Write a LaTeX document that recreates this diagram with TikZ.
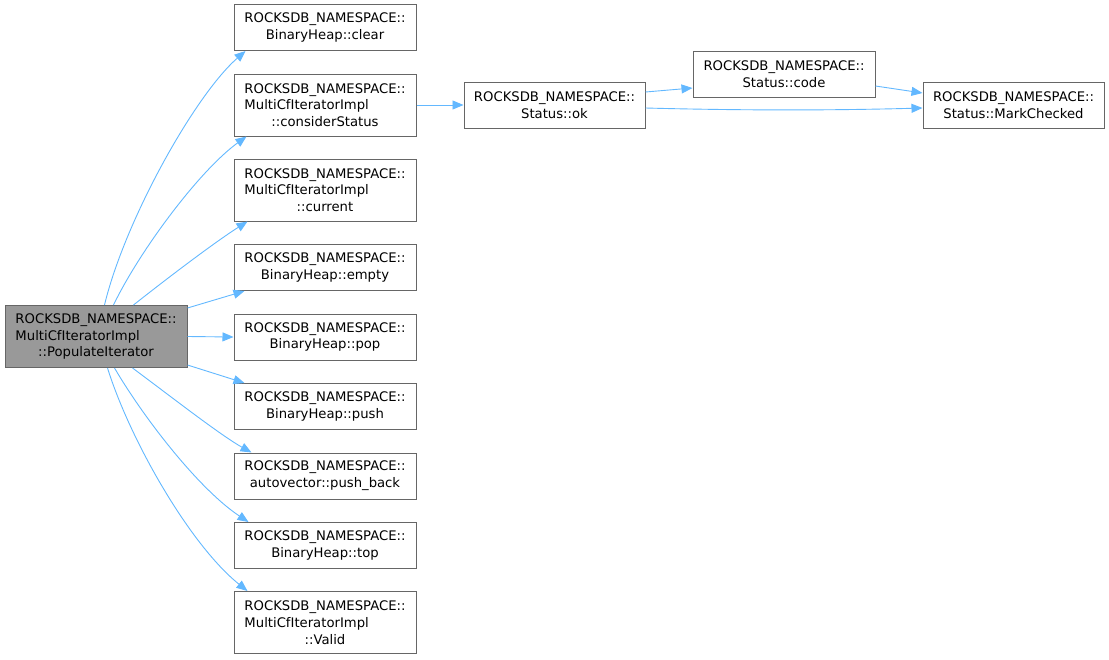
\documentclass[tikz,border=0pt]{standalone}
\usepackage{fontspec}
\setmainfont{DejaVu Sans}
\usetikzlibrary{arrows.meta}

\definecolor{edgeblue}{HTML}{63B8FF}
\definecolor{boxline}{HTML}{666666}
\definecolor{rootfill}{HTML}{999999}

% pad a line to the width of the namespace prefix, text flush left
\newcommand\padl[1]{\leavevmode\rlap{#1}\phantom{ROCKSDB\_NAMESPACE::}}

\begin{document}
\begin{tikzpicture}[x=1pt,y=-1pt,
  fn/.style={draw=boxline,line width=1pt,fill=white,rectangle,
    minimum width=182pt,inner sep=0pt,align=center,
    font=\fontsize{13.2}{16.8}\selectfont},
  two/.style={fn,minimum height=46pt},
  three/.style={fn,minimum height=62pt},
  root/.style={three,fill=rootfill},
  call/.style={draw=edgeblue,line width=0.9pt,
    -{Triangle[length=11pt,width=9pt]}}]
\useasboundingbox (0,0) rectangle (1109,659);

% caller
\node[root] (root) at (96,336.5)
  {ROCKSDB\_NAMESPACE::\\\padl{MultiCfIteratorImpl}\\::PopulateIterator};

% direct callees
\node[two]   (clear)   at (325,27.5)  {ROCKSDB\_NAMESPACE::\\BinaryHeap::clear};
\node[three] (consider) at (325,105)  {ROCKSDB\_NAMESPACE::\\\padl{MultiCfIteratorImpl}\\::considerStatus};
\node[three] (current) at (325,190)   {ROCKSDB\_NAMESPACE::\\\padl{MultiCfIteratorImpl}\\::current};
\node[two]   (empty)   at (325,267.5) {ROCKSDB\_NAMESPACE::\\BinaryHeap::empty};
\node[two]   (pop)     at (325,337)   {ROCKSDB\_NAMESPACE::\\BinaryHeap::pop};
\node[two]   (push)    at (325,406.5) {ROCKSDB\_NAMESPACE::\\BinaryHeap::push};
\node[two]   (pushback) at (325,476)  {ROCKSDB\_NAMESPACE::\\autovector::push\_back};
\node[two]   (top)     at (325,545.5) {ROCKSDB\_NAMESPACE::\\BinaryHeap::top};
\node[three] (valid)   at (325,622.5) {ROCKSDB\_NAMESPACE::\\\padl{MultiCfIteratorImpl}\\::Valid};

% status chain
\node[two,minimum width=181pt] (ok)   at (554.5,105) {ROCKSDB\_NAMESPACE::\\Status::ok};
\node[two] (code) at (784,74)  {ROCKSDB\_NAMESPACE::\\Status::code};
\node[two,minimum width=181pt] (mark) at (1013.5,105) {ROCKSDB\_NAMESPACE::\\Status::MarkChecked};

% calls from PopulateIterator
\draw[call] ([xshift=100pt]root.north west) .. controls (125,220) and (195,95) .. ([xshift=12pt]clear.south west);
\draw[call] ([xshift=109pt]root.north west) .. controls (140,250) and (200,170) .. ([xshift=13pt]consider.south west);
\draw[call] ([xshift=129pt]root.north west) .. controls (165,280) and (215,242) .. ([xshift=14pt]current.south west);
\draw[call] ([yshift=-3pt]root.north east) -- ([xshift=11pt]empty.south west);
\draw[call] (root.east) -- (pop.west);
\draw[call] ([yshift=3pt]root.south east) -- ([xshift=11pt]push.north west);
\draw[call] ([xshift=128pt]root.south west) .. controls (165,392) and (220,435) .. ([xshift=18pt]pushback.north west);
\draw[call] ([xshift=110pt]root.south west) .. controls (145,420) and (200,490) .. ([xshift=15pt]top.north west);
\draw[call] ([xshift=103pt]root.south west) .. controls (130,440) and (190,545) .. ([xshift=14pt]valid.north west);

% calls further down
\draw[call] (consider.east) -- (ok.west);
\draw[call] ([yshift=13pt]ok.east) -- ([yshift=-14pt]code.west);
\draw[call] ([yshift=-12pt]code.east) -- ([yshift=12pt]mark.west);
\draw[call] ([yshift=-3pt]ok.east) .. controls (760,111) and (850,110) .. ([yshift=-3pt]mark.west);
\end{tikzpicture}
\end{document}
